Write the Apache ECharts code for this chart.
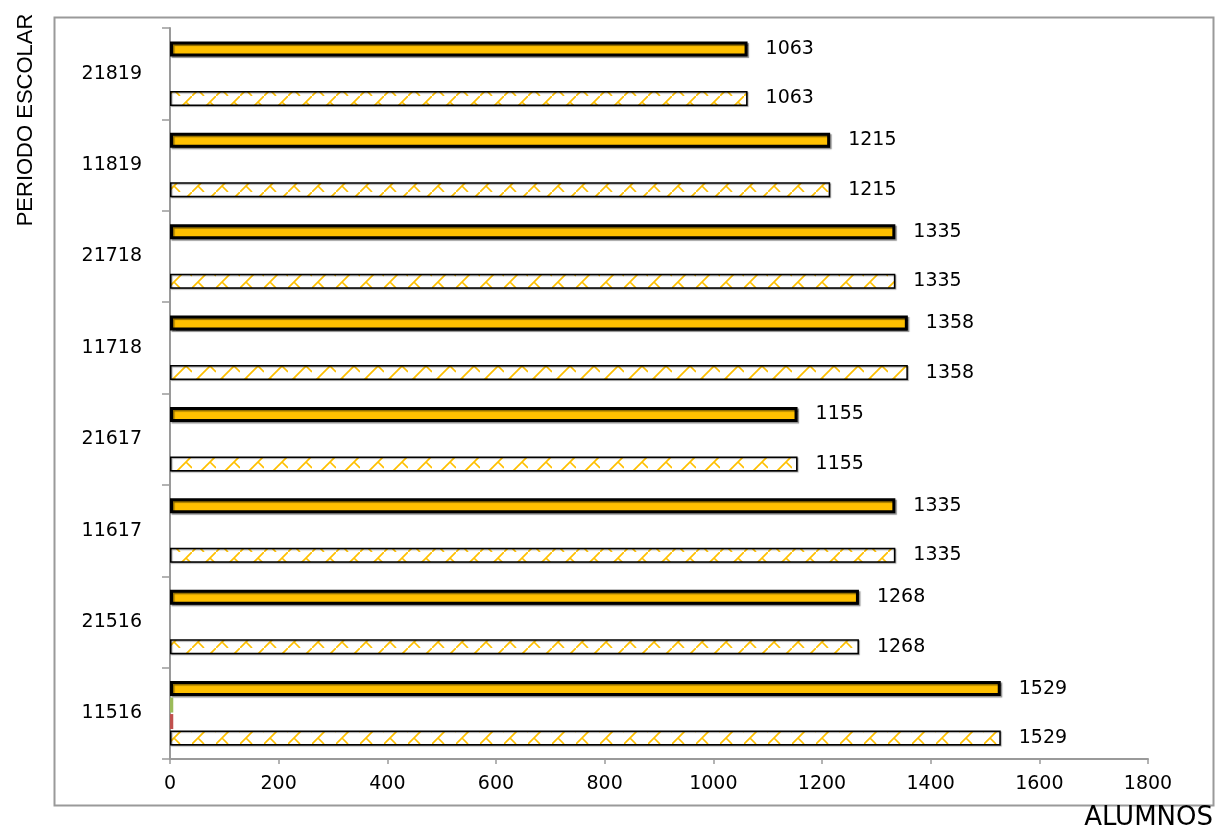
<!DOCTYPE html>
<html>
<head>
<meta charset="utf-8">
<title>Alumnos por periodo escolar</title>
<script src="https://cdn.jsdelivr.net/npm/echarts@6/dist/echarts.min.js"></script>
<style>
  html, body { margin: 0; padding: 0; background: #fff; }
  #main { width: 1215px; height: 830px; }
</style>
</head>
<body>
<div id="main"></div>
<script>
// periodos, de abajo hacia arriba
var periodos = ['11516', '21516', '11617', '21617', '11718', '21718', '11819', '21819']
var inscritos = [1529, 1268, 1335, 1155, 1358, 1335, 1215, 1063]
var atendidos = [1529, 1268, 1335, 1155, 1358, 1335, 1215, 1063]
var bajas = [6, 0, 0, 0, 0, 0, 0, 0]
var reprobados = [6, 0, 0, 0, 0, 0, 0, 0]
var ticksX = [0, 200, 400, 600, 800, 1000, 1200, 1400, 1600, 1800]

// trama diagonal con ganchos para la serie rayada
function trama() {
  var c = document.createElement('canvas')
  c.width = 24
  c.height = 24
  var ctx = c.getContext('2d')
  ctx.fillStyle = '#ffffff'
  ctx.fillRect(0, 0, 24, 24)
  ctx.strokeStyle = '#FFC000'
  ctx.lineWidth = 1.7
  ctx.beginPath()
  ctx.moveTo(-2, 26)
  ctx.lineTo(26, -2)
  ctx.moveTo(18, 6)
  ctx.lineTo(24, 12)
  ctx.moveTo(6, 18)
  ctx.lineTo(12, 24)
  ctx.stroke()
  return c
}

var etiqueta = {
  show: true,
  position: 'right',
  distance: 18,
  color: '#000',
  fontFamily: 'DejaVu Sans',
  fontSize: 19
}

var myChart = echarts.init(document.getElementById('main'), null, { renderer: 'canvas' })
var option = {
  animation: false,
  grid: { left: 170, right: 67, top: 28, bottom: 71, containLabel: false },
  xAxis: {
    type: 'value',
    min: 0,
    max: ticksX[ticksX.length - 1],
    interval: 200,
    axisLine: { show: true, lineStyle: { color: '#9a9a9a', width: 2 } },
    axisTick: { show: true, length: 5, lineStyle: { color: '#9a9a9a', width: 1.5 } },
    splitLine: { show: false },
    axisLabel: {
      color: '#000',
      fontFamily: 'DejaVu Sans',
      fontSize: 19,
      margin: 16,
      formatter: function (v) { return ticksX.indexOf(v) >= 0 ? String(v) : '' }
    }
  },
  yAxis: {
    type: 'category',
    data: periodos,
    axisLine: { show: true, lineStyle: { color: '#9a9a9a', width: 2 } },
    axisTick: { show: true, length: 8, lineStyle: { color: '#9a9a9a', width: 1.5 } },
    axisLabel: {
      color: '#000',
      fontFamily: 'DejaVu Sans',
      fontSize: 19,
      margin: 28
    }
  },
  series: [
    {
      name: 'Inscritos',
      type: 'bar',
      data: inscritos,
      barWidth: 15,
      barGap: '10%',
      itemStyle: {
        color: '#FFC000',
        borderColor: '#000',
        borderWidth: 3,
        shadowColor: 'rgba(0,0,0,0.45)',
        shadowOffsetX: 1.5,
        shadowOffsetY: 1.5,
        shadowBlur: 1
      },
      label: etiqueta
    },
    {
      name: 'Reprobados',
      type: 'bar',
      data: reprobados,
      barWidth: 15,
      barGap: '10%',
      itemStyle: { color: '#9BBB59' }
    },
    {
      name: 'Bajas',
      type: 'bar',
      data: bajas,
      barWidth: 15,
      barGap: '10%',
      itemStyle: { color: '#C0504D' }
    },
    {
      name: 'Atendidos',
      type: 'bar',
      data: atendidos,
      barWidth: 15,
      barGap: '10%',
      itemStyle: {
        color: { image: trama(), repeat: 'repeat' },
        borderColor: '#000',
        borderWidth: 1.5,
        shadowColor: 'rgba(0,0,0,0.35)',
        shadowOffsetX: 1,
        shadowOffsetY: 1,
        shadowBlur: 1
      },
      label: etiqueta
    }
  ],
  graphic: [
    {
      type: 'rect',
      left: 52,
      top: 15,
      shape: { x: 0, y: 0, width: 1159, height: 788 },
      style: { fill: 'none', stroke: '#9a9a9a', lineWidth: 2 },
      silent: true,
      z: -1
    },
    {
      type: 'text',
      x: 26,
      y: 120,
      rotation: Math.PI / 2,
      style: {
        text: 'PERIODO ESCOLAR',
        fill: '#000',
        font: '22px "Liberation Sans Narrow", "Liberation Sans", sans-serif',
        textAlign: 'center',
        textVerticalAlign: 'middle'
      }
    },
    {
      type: 'text',
      x: 1213,
      y: 818,
      style: {
        text: 'ALUMNOS',
        fill: '#000',
        font: '26px "DejaVu Sans", sans-serif',
        textAlign: 'right',
        textVerticalAlign: 'middle'
      }
    }
  ]
}
myChart.setOption(option)
</script>
</body>
</html>
